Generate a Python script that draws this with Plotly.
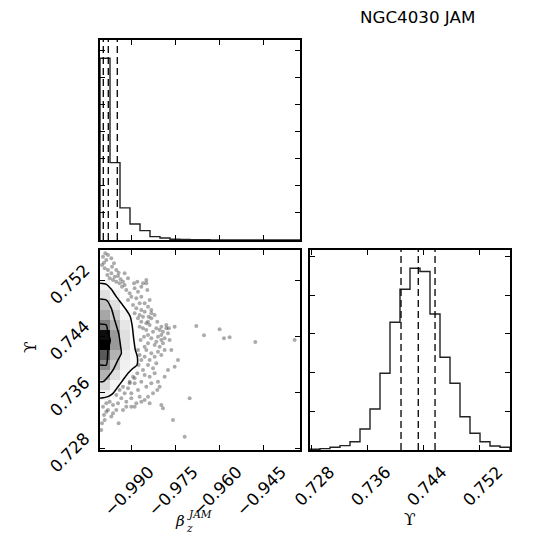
import plotly.graph_objects as go

# ---------------- data ----------------
beta_range = [-1.00054, -0.93254]
ups_range = [0.72776, 0.75628]
n_bins = 20

beta_counts = [6700, 2850, 1185, 592, 345, 123, 74, 30, 18, 12, 9, 6, 5, 4, 3, 2, 2, 1, 1, 1]
ups_counts = [7, 14, 28, 45, 86, 217, 424, 793, 1320, 1662, 1879, 1844, 1406, 958, 690, 344, 173, 86, 41, 28]

beta_quantiles = [-0.99942, -0.99772, -0.99466]
ups_quantiles = [0.74074, 0.74320, 0.74559]

beta_ticks = [-0.990, -0.975, -0.960, -0.945]
beta_ticktext = ["\u22120.990", "\u22120.975", "\u22120.960", "\u22120.945"]
ups_ticks = [0.728, 0.736, 0.744, 0.752]
ups_ticktext = ["0.728", "0.736", "0.744", "0.752"]
beta_count_ticks = [1000, 2000, 3000, 4000, 5000, 6000, 7000]
ups_count_ticks = [400, 800, 1200, 1600, 2000]

samp_beta = [
    -0.99952, -0.99839, -0.99986, -0.99895, -0.99782, -0.99669, -0.99805, -0.99556, -0.99442, -0.99725,
    -0.99612, -0.99499, -0.99386, -0.99873, -0.99918, -0.99646, -0.99352, -0.99272, -0.99216, -0.98876,
    -0.98762, -0.98592, -0.98479, -0.98649, -0.99159, -0.99046, -0.98989, -0.98819, -0.98706, -0.99102,
    -0.98932, -0.98536, -0.98592, -0.98366, -0.98819, -0.98876, -0.98762, -0.98649, -0.98422, -0.98309,
    -0.98706, -0.98592, -0.98479, -0.98366, -0.98252, -0.98139, -0.98083, -0.97969, -0.97856, -0.97799,
    -0.97743, -0.97686, -0.97516, -0.97913, -0.98026, -0.98196, -0.98422, -0.98479, -0.98309, -0.98536,
    -0.98366, -0.98196, -0.98083, -0.97969, -0.97856, -0.98139, -0.98252, -0.98422, -0.98592, -0.98536,
    -0.98366, -0.98196, -0.98083, -0.98309, -0.98649, -0.98479, -0.98026, -0.98762, -0.98876, -0.98989,
    -0.99102, -0.99216, -0.99272, -0.99046, -0.98932, -0.99386, -0.99499, -0.99329, -0.99159, -0.98989,
    -0.98819, -0.98706, -0.98649, -0.99442, -0.99612, -0.99725, -0.99839, -0.99952, -0.99782, -0.99669,
    -0.99895, -0.99986, -1.00010, -0.99420, -0.97969, -0.97913, -0.97516, -0.97573, -0.97176, -0.97006,
    -0.96780, -0.96519, -0.95987, -0.95839, -0.95647, -0.94774, -0.93437, -0.97743, -0.97856, -0.97403,
    -0.97629, -0.98422, -0.98536, -0.98649, -0.98309, -0.98479, -0.98672, -0.98558, -0.98422, -0.98309,
    -0.98139, -0.98762, -0.98706, -0.98649, -0.98740, -0.98785, -0.98876, -0.99046, -0.98536, -0.97969,
    -0.98026, -0.97799, -0.97709, -0.97969, -0.98989, -0.98876, -0.99159, -0.99272, -0.99499, -0.99612,
    -0.99839, -0.99918, -0.98105, -0.98252, -0.98422, -0.98536, -0.98366, -0.98898, -0.98785, -0.99669,
    -0.99578, -0.99782, -0.99499, -0.99420, -0.99216, -0.99102, -0.99306, -0.98445, -0.98479, -0.98309,
    -0.98196, -0.98105, -0.97913, -0.98400, -0.98649, -0.98706,
]
samp_ups = [
    0.75533, 0.75485, 0.75414, 0.75367, 0.75343, 0.75295, 0.75272, 0.75248, 0.75257, 0.75224,
    0.75200, 0.75176, 0.75153, 0.75580, 0.75447, 0.75390, 0.75210, 0.75176, 0.75129, 0.75081,
    0.75034, 0.75153, 0.75200, 0.75105, 0.75058, 0.75010, 0.74963, 0.74939, 0.74868, 0.74915,
    0.74844, 0.74749, 0.74677, 0.74915, 0.74796, 0.74725, 0.74654, 0.74606, 0.74606, 0.74725,
    0.74535, 0.74511, 0.74487, 0.74559, 0.74464, 0.74511, 0.74392, 0.74416, 0.74368, 0.74511,
    0.74440, 0.74345, 0.74535, 0.74297, 0.74250, 0.74273, 0.74297, 0.74202, 0.74154, 0.74107,
    0.74060, 0.74107, 0.74178, 0.74131, 0.74202, 0.74012, 0.73941, 0.73988, 0.73917, 0.73846,
    0.73822, 0.73869, 0.73751, 0.73727, 0.73751, 0.73679, 0.73679, 0.73632, 0.73727, 0.73584,
    0.73656, 0.73584, 0.73679, 0.73727, 0.73822, 0.73632, 0.73561, 0.73513, 0.73465, 0.73513,
    0.73442, 0.73537, 0.73465, 0.73442, 0.73418, 0.73465, 0.73442, 0.73394, 0.73347, 0.73252,
    0.73204, 0.73156, 0.73061, 0.73156, 0.73418, 0.73370, 0.73964, 0.73204, 0.72966, 0.73513,
    0.74544, 0.74411, 0.74497, 0.74368, 0.74383, 0.74316, 0.74345, 0.73917, 0.73822, 0.74060,
    0.74202, 0.74820, 0.74868, 0.74963, 0.74654, 0.74582, 0.74345, 0.74392, 0.74416, 0.74368,
    0.74321, 0.74202, 0.74131, 0.74060, 0.73988, 0.73869, 0.73798, 0.73751, 0.74250, 0.74535,
    0.74487, 0.74559, 0.74511, 0.74345, 0.73394, 0.73394, 0.73394, 0.73347, 0.73347, 0.73299,
    0.73323, 0.73275, 0.73632, 0.73584, 0.73537, 0.73489, 0.73442, 0.75153, 0.75176, 0.75509,
    0.75438, 0.75557, 0.75343, 0.75305, 0.75295, 0.75224, 0.75105, 0.75058, 0.75153, 0.74772,
    0.74701, 0.74606, 0.74464, 0.74677, 0.74772, 0.74701,
]

grid_beta = [-0.99884, -0.99544, -0.99204, -0.98864]
grid_ups = [0.73560, 0.73703, 0.73846, 0.73988, 0.74131, 0.74273,
            0.74416, 0.74559, 0.74701, 0.74844, 0.74986, 0.75129]
grid_density = [
    [0.06, None, None, None],
    [0.15, 0.04, None, None],
    [0.30, 0.12, 0.03, None],
    [0.45, 0.22, 0.06, 0.02],
    [0.65, 0.30, 0.08, 0.02],
    [1.00, 0.40, 0.12, 0.02],
    [0.95, 0.40, 0.12, 0.02],
    [0.50, 0.30, 0.10, None],
    [0.35, 0.20, 0.05, None],
    [0.25, 0.12, None, None],
    [0.12, 0.05, None, None],
    [0.05, None, None, None],
]

outer_beta = [-1.0005, -0.99839, -0.99669, -0.99499, -0.99329, -0.99159, -0.99023, -0.98955, -0.98910, -0.98853,
              -0.98785, -0.98796, -0.98932, -0.99102, -0.99272, -0.99442, -0.99612, -0.99782, -1.0005]
outer_ups = [0.75153, 0.75138, 0.75067, 0.74963, 0.74868, 0.74772, 0.74677, 0.74535, 0.74368, 0.74202,
             0.74107, 0.73988, 0.73941, 0.73869, 0.73774, 0.73679, 0.73584, 0.73537, 0.73513]
mid_beta = [-1.0005, -0.99839, -0.99669, -0.99556, -0.99420, -0.99352, -0.99329, -0.99442, -0.99612, -0.99782,
            -0.99952, -1.0005]
mid_ups = [0.74929, 0.74915, 0.74796, 0.74630, 0.74440, 0.74250, 0.74154, 0.74060, 0.73917, 0.73822,
           0.73751, 0.73751]
inner_beta = [-1.0005, -0.99839, -0.99782, -0.99703, -0.99782, -0.99839, -1.0005]
inner_ups = [0.74573, 0.74559, 0.74440, 0.74345, 0.74202, 0.73988, 0.73988]

title_text = "NGC4030 JAM"

# ---------------- figure ----------------
W = H = 550
OFF = 8  # page body margin of the browser

def fx(p):
    return (p - OFF) / W
def fy(p):
    return 1 - (p - OFF) / H

FONT = "DejaVu Sans"
TICKFONT = dict(family=FONT, size=16.7, color="black")

def step_xy(rng, counts):
    n = len(counts)
    edges = [rng[0] + i * (rng[1] - rng[0]) / n for i in range(n + 1)]
    xs = [edges[0]] + edges + [edges[-1]]
    ys = [0] + list(counts) + [counts[-1], 0]
    return xs, ys

fig = go.Figure()

bx, by = step_xy(beta_range, beta_counts)
fig.add_trace(go.Scatter(x=bx, y=by, mode="lines", line=dict(color="#222", width=1.4, shape="hv"),
                         xaxis="x", yaxis="y", showlegend=False, hoverinfo="skip"))

ux, uy = step_xy(ups_range, ups_counts)
fig.add_trace(go.Scatter(x=ux, y=uy, mode="lines", line=dict(color="#222", width=1.4, shape="hv"),
                         xaxis="x3", yaxis="y3", showlegend=False, hoverinfo="skip"))

fig.add_trace(go.Heatmap(x=grid_beta, y=grid_ups, z=grid_density, zmin=0, zmax=1,
                         colorscale=[[0, "white"], [1, "black"]], showscale=False,
                         xaxis="x2", yaxis="y2", hoverinfo="skip"))
fig.add_trace(go.Scatter(x=samp_beta, y=samp_ups, mode="markers",
                         marker=dict(color="rgba(0,0,0,0.33)", size=4, line=dict(width=0)),
                         xaxis="x2", yaxis="y2", showlegend=False, hoverinfo="skip"))
for cb, cu in [(outer_beta, outer_ups), (mid_beta, mid_ups), (inner_beta, inner_ups)]:
    fig.add_trace(go.Scatter(x=cb, y=cu, mode="lines", line=dict(color="black", width=1.5, shape="spline", smoothing=0.6),
                             xaxis="x2", yaxis="y2", showlegend=False, hoverinfo="skip"))

shapes = []
for q in beta_quantiles:
    shapes.append(dict(type="line", xref="x", yref="y domain", x0=q, x1=q, y0=0, y1=1,
                       line=dict(color="black", width=1.3, dash="7px,4px")))
for q in ups_quantiles:
    shapes.append(dict(type="line", xref="x3", yref="y3 domain", x0=q, x1=q, y0=0, y1=1,
                       line=dict(color="black", width=1.3, dash="7px,4px")))

common = dict(showline=True, linecolor="black", linewidth=1.5, mirror="ticks", ticks="inside",
              ticklen=5, tickwidth=1, tickcolor="black", showgrid=False, zeroline=False,
              tickfont=TICKFONT, automargin=False)

left_dom = [fx(100), fx(300)]
right_dom = [fx(310), fx(510)]
top_dom = [fy(240), fy(40)]
bot_dom = [fy(450), fy(250)]

fig.update_layout(
    width=W, height=H, margin=dict(l=0, r=0, t=0, b=0, autoexpand=False),
    paper_bgcolor="white", plot_bgcolor="white",
    shapes=shapes,
    xaxis=dict(domain=left_dom, anchor="y", range=beta_range, tickvals=beta_ticks,
               showticklabels=False, **common),
    yaxis=dict(domain=top_dom, anchor="x", range=[0, 1.1 * max(beta_counts)], tickvals=beta_count_ticks,
               showticklabels=False, **common),
    xaxis2=dict(domain=left_dom, anchor="y2", range=beta_range, tickvals=beta_ticks, ticktext=beta_ticktext,
                tickangle=-45, ticklabelshift=18, ticklabelstandoff=4, **common),
    yaxis2=dict(domain=bot_dom, anchor="x2", range=ups_range, tickvals=ups_ticks, ticktext=ups_ticktext,
                tickangle=-45, ticklabelshift=-12, ticklabelstandoff=10, **common),
    xaxis3=dict(domain=right_dom, anchor="y3", range=ups_range, tickvals=ups_ticks, ticktext=ups_ticktext,
                tickangle=-45, ticklabelshift=18, ticklabelstandoff=4, **common),
    yaxis3=dict(domain=bot_dom, anchor="x3", range=[0, 1.1 * max(ups_counts)], tickvals=ups_count_ticks,
                showticklabels=False, **common),
)

annos = [
    dict(text=title_text, x=fx(417), y=fy(17), xref="paper", yref="paper", showarrow=False, borderpad=0,
         xanchor="center", yanchor="middle", font=dict(family=FONT, size=16.7, color="black")),
    dict(text="<i>β</i>", x=fx(180), y=fy(521), xref="paper", yref="paper", showarrow=False, borderpad=0,
         xanchor="center", yanchor="middle", font=dict(family="DejaVu Serif", size=15, color="black")),
    dict(text="<i>JAM</i>", x=fx(186), y=fy(513.5), xref="paper", yref="paper", showarrow=False, borderpad=0,
         xanchor="left", yanchor="middle", font=dict(family="DejaVu Serif", size=10.5, color="black")),
    dict(text="<i>z</i>", x=fx(185), y=fy(527.5), xref="paper", yref="paper", showarrow=False, borderpad=0,
         xanchor="left", yanchor="middle", font=dict(family="DejaVu Serif", size=10.5, color="black")),
    dict(text="ϒ", x=fx(410), y=fy(519), xref="paper", yref="paper", showarrow=False, borderpad=0,
         xanchor="center", yanchor="middle", font=dict(family="DejaVu Serif", size=17, color="black")),
    dict(text="ϒ", x=fx(30), y=fy(347), xref="paper", yref="paper", showarrow=False, textangle=-90, borderpad=0,
         xanchor="center", yanchor="middle", font=dict(family="DejaVu Serif", size=17, color="black")),
]
fig.update_layout(annotations=annos)

fig.write_html("out.html")
